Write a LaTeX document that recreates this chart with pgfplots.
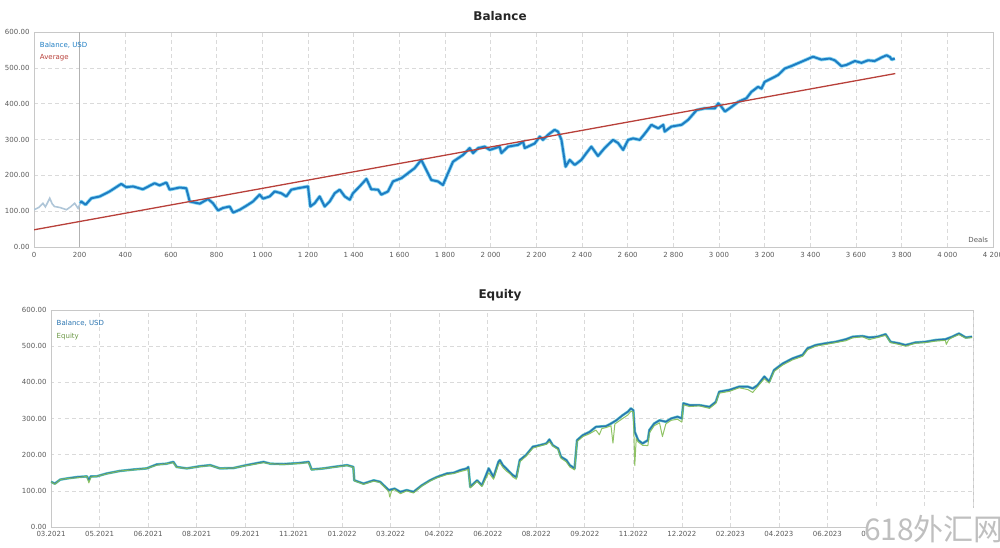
\documentclass[border=0pt]{standalone}
\usepackage{pgfplots}
\pgfplotsset{compat=1.18}
\usepackage{fontspec}
\setmainfont{DejaVu Sans}
\newfontfamily\cjk{Noto Sans CJK SC}
\definecolor{tickc}{HTML}{5A5A5A}
\definecolor{framec}{HTML}{C8C8C8}
\definecolor{gridc}{HTML}{DADADA}
\definecolor{balblue}{HTML}{1E7DC3}
\definecolor{halo}{HTML}{8AD8F2}
\definecolor{prebal}{HTML}{AFC6D8}
\definecolor{avgred}{HTML}{B8403A}
\definecolor{eqgreen}{HTML}{84BD55}
\definecolor{bal2}{HTML}{2A74B0}
\definecolor{teal2}{HTML}{5CC6C8}
\pgfplotsset{
  mystyle/.style={
    scale only axis,
    anchor=south west,
    axis line style={framec, line width=0.8pt},
    major tick length=0pt,
    tick label style={font=\fontsize{7}{8}\selectfont, text=tickc},
    grid=major,
    major grid style={gridc, dash pattern=on 3.5pt off 3.5pt, line width=0.6pt},
    ymin=0, ymax=600,
    ytick={0,100,...,600},
    yticklabels={0.00,100.00,200.00,300.00,400.00,500.00,600.00},
    clip=true,
  }
}
\begin{document}
\begin{tikzpicture}[x=1pt,y=1pt]
\useasboundingbox (0,0) rectangle (1000,548);
% ---------------- Balance ----------------
\node[font=\bfseries\fontsize{12}{14}\selectfont, text=black!85] at (500,532) {Balance};
\begin{axis}[mystyle,
  at={(34pt,301pt)}, width=959pt, height=215pt,
  xmin=0, xmax=4200,
  xtick={0,200,...,4200},
  xticklabels={0,200,400,600,800,1 000,1 200,1 400,1 600,1 800,2 000,2 200,2 400,2 600,2 800,3 000,3 200,3 400,3 600,3 800,4 000,4 200},
  xticklabel style={yshift=-2pt},
  yticklabel style={xshift=-1pt},
]
\draw[black!30, line width=1.5pt] (axis cs:200,0) -- (axis cs:200,600);
\addplot[prebal, line width=1.6pt] coordinates {
(0,104)(20,110)(39,122)(50,112)(69,136)(80,120)(90,113)(115,110)(142,104)(160,112)(178,122)(193,108)(203,122)
};
\addplot[halo, line width=3.6pt, line join=round] coordinates {
(203,122)(207,127)(226,118)(251,136)(288,141)(331,155)(382,176)(404,167)(434,169)(477,161)(528,178)(550,172)(580,180)(594,160)(638,166)(667,164)(682,127)(696,125)(726,121)(762,134)(784,122)(806,102)(828,109)(857,113)(872,96)(901,104)(930,115)(959,127)(988,146)(1003,135)(1032,141)(1054,155)(1083,150)(1105,141)(1127,160)(1156,164)(1200,169)(1210,113)(1229,122)(1251,141)(1273,113)(1295,127)(1317,150)(1339,160)(1361,141)(1383,132)(1397,150)(1426,169)(1456,190)(1477,161)(1507,160)(1521,146)(1550,155)(1572,183)(1609,192)(1638,206)(1667,220)(1696,243)(1718,215)(1740,187)(1769,183)(1791,173)(1813,206)(1835,238)(1879,257)(1908,276)(1923,262)(1945,276)(1974,280)(1996,271)(2039,280)(2047,262)(2076,280)(2120,285)(2142,294)(2149,276)(2193,289)(2215,308)(2229,299)(2251,313)(2280,327)(2295,322)(2310,299)(2328,224)(2346,243)(2368,229)(2397,243)(2419,262)(2441,280)(2470,254)(2499,276)(2536,299)(2558,290)(2580,271)(2602,299)(2624,303)(2653,299)(2682,322)(2704,341)(2734,331)(2756,341)(2762,322)(2791,336)(2836,341)(2865,355)(2902,382)(2938,387)(2982,387)(2997,401)(3011,391)(3026,378)(3055,391)(3084,405)(3120,415)(3142,433)(3171,447)(3186,442)(3200,461)(3229,470)(3259,480)(3288,498)(3317,505)(3361,517)(3412,531)(3448,523)(3485,526)(3507,521)(3536,505)(3558,508)(3595,519)(3624,514)(3653,521)(3682,519)(3712,529)(3734,535)(3749,530)(3756,523)(3770,526)
};
\addplot[balblue, line width=2.0pt, line join=round] coordinates {
(203,122)(207,127)(226,118)(251,136)(288,141)(331,155)(382,176)(404,167)(434,169)(477,161)(528,178)(550,172)(580,180)(594,160)(638,166)(667,164)(682,127)(696,125)(726,121)(762,134)(784,122)(806,102)(828,109)(857,113)(872,96)(901,104)(930,115)(959,127)(988,146)(1003,135)(1032,141)(1054,155)(1083,150)(1105,141)(1127,160)(1156,164)(1200,169)(1210,113)(1229,122)(1251,141)(1273,113)(1295,127)(1317,150)(1339,160)(1361,141)(1383,132)(1397,150)(1426,169)(1456,190)(1477,161)(1507,160)(1521,146)(1550,155)(1572,183)(1609,192)(1638,206)(1667,220)(1696,243)(1718,215)(1740,187)(1769,183)(1791,173)(1813,206)(1835,238)(1879,257)(1908,276)(1923,262)(1945,276)(1974,280)(1996,271)(2039,280)(2047,262)(2076,280)(2120,285)(2142,294)(2149,276)(2193,289)(2215,308)(2229,299)(2251,313)(2280,327)(2295,322)(2310,299)(2328,224)(2346,243)(2368,229)(2397,243)(2419,262)(2441,280)(2470,254)(2499,276)(2536,299)(2558,290)(2580,271)(2602,299)(2624,303)(2653,299)(2682,322)(2704,341)(2734,331)(2756,341)(2762,322)(2791,336)(2836,341)(2865,355)(2902,382)(2938,387)(2982,387)(2997,401)(3011,391)(3026,378)(3055,391)(3084,405)(3120,415)(3142,433)(3171,447)(3186,442)(3200,461)(3229,470)(3259,480)(3288,498)(3317,505)(3361,517)(3412,531)(3448,523)(3485,526)(3507,521)(3536,505)(3558,508)(3595,519)(3624,514)(3653,521)(3682,519)(3712,529)(3734,535)(3749,530)(3756,523)(3770,526)
};
\addplot[avgred, line width=1.3pt] coordinates {(0,48)(3772,484)};
\node[anchor=north west, inner sep=0pt, font=\fontsize{7}{8}\selectfont, text=balblue] at (rel axis cs:0.006,0.955) {Balance, USD};
\node[anchor=north west, inner sep=0pt, font=\fontsize{7}{8}\selectfont, text=avgred] at (rel axis cs:0.006,0.895) {Average};
\node[anchor=south east, inner sep=0pt, font=\fontsize{7}{8}\selectfont, text=tickc] at (rel axis cs:0.995,0.02) {Deals};
\end{axis}
% ---------------- Equity ----------------
\node[font=\bfseries\fontsize{12}{14}\selectfont, text=black!85] at (500,253) {Equity};
\begin{axis}[mystyle,
  at={(51pt,21pt)}, width=922pt, height=217pt,
  xmin=0, xmax=19,
  xtick={0,1,...,18},
  xticklabels={03.2021,05.2021,06.2021,08.2021,09.2021,11.2021,01.2022,03.2022,04.2022,06.2022,08.2022,09.2022,11.2022,12.2022,02.2023,04.2023,06.2023,07.2023,09.2023},
  extra x ticks={19}, extra x tick labels={},
  xticklabel style={yshift=-1pt},
  yticklabel style={xshift=-1pt},
]
\addplot[teal2, line width=2.6pt, line join=round] coordinates {
(0,125)(0.08,120)(0.19,131)(0.32,134)(0.53,138)(0.74,140)(0.78,130)(0.82,140)(0.94,140)(1.15,148)(1.42,155)(1.70,159)(1.97,162)(2.18,173)(2.38,175)(2.52,180)(2.59,166)(2.80,162)(3.07,168)(3.28,171)(3.48,162)(3.76,163)(4.03,171)(4.38,180)(4.52,175)(4.79,174)(5.13,177)(5.31,180)(5.37,159)(5.62,162)(5.82,166)(6.10,171)(6.23,166)(6.25,129)(6.44,120)(6.65,129)(6.78,125)(6.96,102)(7.08,106)(7.20,97)(7.33,102)(7.47,97)(7.64,115)(7.81,129)(7.95,138)(8.16,148)(8.30,150)(8.43,157)(8.57,162)(8.60,166)(8.64,111)(8.78,129)(8.88,115)(9.02,162)(9.12,138)(9.22,180)(9.25,185)(9.31,171)(9.38,162)(9.45,152)(9.52,143)(9.59,138)(9.66,185)(9.79,199)(9.93,222)(10.07,226)(10.21,231)(10.27,242)(10.34,226)(10.45,217)(10.51,194)(10.62,185)(10.69,171)(10.79,162)(10.84,240)(10.96,254)(11.10,263)(11.23,277)(11.44,279)(11.54,286)(11.65,295)(11.78,309)(11.89,319)(11.95,328)(12.0,323)(12.03,263)(12.1,240)(12.19,231)(12.30,240)(12.33,268)(12.43,286)(12.54,295)(12.67,291)(12.78,300)(12.91,305)(13.0,300)(13.03,342)(13.16,337)(13.36,337)(13.57,332)(13.70,346)(13.77,374)(13.98,379)(14.18,388)(14.36,388)(14.46,383)(14.56,392)(14.70,416)(14.80,402)(14.90,434)(15.08,452)(15.28,466)(15.49,476)(15.59,494)(15.76,503)(15.97,508)(16.17,512)(16.38,519)(16.52,526)(16.72,528)(16.86,524)(17.03,526)(17.20,533)(17.30,512)(17.47,508)(17.61,503)(17.81,510)(18.02,512)(18.23,517)(18.43,519)(18.57,526)(18.71,535)(18.85,524)(18.98,526)
};
\addplot[bal2, line width=1.4pt, line join=round] coordinates {
(0,125)(0.08,120)(0.19,131)(0.32,134)(0.53,138)(0.74,140)(0.78,130)(0.82,140)(0.94,140)(1.15,148)(1.42,155)(1.70,159)(1.97,162)(2.18,173)(2.38,175)(2.52,180)(2.59,166)(2.80,162)(3.07,168)(3.28,171)(3.48,162)(3.76,163)(4.03,171)(4.38,180)(4.52,175)(4.79,174)(5.13,177)(5.31,180)(5.37,159)(5.62,162)(5.82,166)(6.10,171)(6.23,166)(6.25,129)(6.44,120)(6.65,129)(6.78,125)(6.96,102)(7.08,106)(7.20,97)(7.33,102)(7.47,97)(7.64,115)(7.81,129)(7.95,138)(8.16,148)(8.30,150)(8.43,157)(8.57,162)(8.60,166)(8.64,111)(8.78,129)(8.88,115)(9.02,162)(9.12,138)(9.22,180)(9.25,185)(9.31,171)(9.38,162)(9.45,152)(9.52,143)(9.59,138)(9.66,185)(9.79,199)(9.93,222)(10.07,226)(10.21,231)(10.27,242)(10.34,226)(10.45,217)(10.51,194)(10.62,185)(10.69,171)(10.79,162)(10.84,240)(10.96,254)(11.10,263)(11.23,277)(11.44,279)(11.54,286)(11.65,295)(11.78,309)(11.89,319)(11.95,328)(12.0,323)(12.03,263)(12.1,240)(12.19,231)(12.30,240)(12.33,268)(12.43,286)(12.54,295)(12.67,291)(12.78,300)(12.91,305)(13.0,300)(13.03,342)(13.16,337)(13.36,337)(13.57,332)(13.70,346)(13.77,374)(13.98,379)(14.18,388)(14.36,388)(14.46,383)(14.56,392)(14.70,416)(14.80,402)(14.90,434)(15.08,452)(15.28,466)(15.49,476)(15.59,494)(15.76,503)(15.97,508)(16.17,512)(16.38,519)(16.52,526)(16.72,528)(16.86,524)(17.03,526)(17.20,533)(17.30,512)(17.47,508)(17.61,503)(17.81,510)(18.02,512)(18.23,517)(18.43,519)(18.57,526)(18.71,535)(18.85,524)(18.98,526)
};
\addplot[eqgreen, line width=1.0pt, line join=round, opacity=0.9] coordinates {
(0,125)(0.08,118)(0.19,131)(0.32,134)(0.53,136)(0.74,140)(0.78,122)(0.82,138)(0.94,140)(1.15,147)(1.42,155)(1.70,158)(1.97,162)(2.18,171)(2.38,175)(2.52,178)(2.59,165)(2.80,162)(3.07,167)(3.28,170)(3.48,162)(3.76,163)(4.03,170)(4.38,178)(4.52,175)(4.79,173)(5.13,176)(5.31,178)(5.37,158)(5.62,162)(5.82,165)(6.10,170)(6.23,165)(6.25,128)(6.44,118)(6.65,127)(6.78,123)(6.96,98)(6.98,83)(7.02,100)(7.08,104)(7.20,92)(7.33,100)(7.47,94)(7.64,113)(7.81,127)(7.95,136)(8.16,145)(8.30,148)(8.43,153)(8.57,158)(8.60,160)(8.64,108)(8.78,126)(8.88,112)(9.02,150)(9.12,132)(9.22,172)(9.25,178)(9.31,165)(9.38,155)(9.45,148)(9.52,138)(9.59,132)(9.66,180)(9.79,196)(9.93,218)(10.07,224)(10.21,229)(10.27,236)(10.34,224)(10.45,214)(10.51,190)(10.62,180)(10.69,166)(10.79,158)(10.84,236)(10.96,250)(11.10,258)(11.23,268)(11.30,255)(11.35,272)(11.44,275)(11.54,280)(11.58,232)(11.62,285)(11.78,300)(11.89,310)(11.95,320)(12.0,318)(12.03,170)(12.06,245)(12.1,235)(12.19,226)(12.30,225)(12.33,260)(12.43,280)(12.54,288)(12.60,250)(12.67,285)(12.78,295)(12.91,298)(13.0,290)(13.03,338)(13.16,333)(13.36,335)(13.57,328)(13.70,342)(13.77,370)(13.98,375)(14.18,385)(14.36,380)(14.46,372)(14.56,388)(14.70,410)(14.80,398)(14.90,430)(15.08,448)(15.28,462)(15.49,472)(15.59,490)(15.76,500)(15.97,505)(16.17,510)(16.38,515)(16.52,523)(16.72,526)(16.86,518)(17.03,524)(17.20,530)(17.30,510)(17.47,505)(17.61,500)(17.81,508)(18.02,510)(18.23,514)(18.43,516)(18.45,505)(18.50,518)(18.57,524)(18.71,532)(18.85,522)(18.98,524)
};
\node[anchor=north west, inner sep=0pt, font=\fontsize{7}{8}\selectfont, text=bal2] at (rel axis cs:0.006,0.955) {Balance, USD};
\node[anchor=north west, inner sep=0pt, font=\fontsize{7}{8}\selectfont, text=eqgreen!80!black] at (rel axis cs:0.006,0.895) {Equity};
\end{axis}
% watermark
\fill[white] (866,0) rectangle (1000,40);
\node[anchor=center, inner sep=0pt, font=\cjk\fontsize{30}{32}\selectfont, text=black!25] at (934,19) {618外汇网};
\end{tikzpicture}
\end{document}
